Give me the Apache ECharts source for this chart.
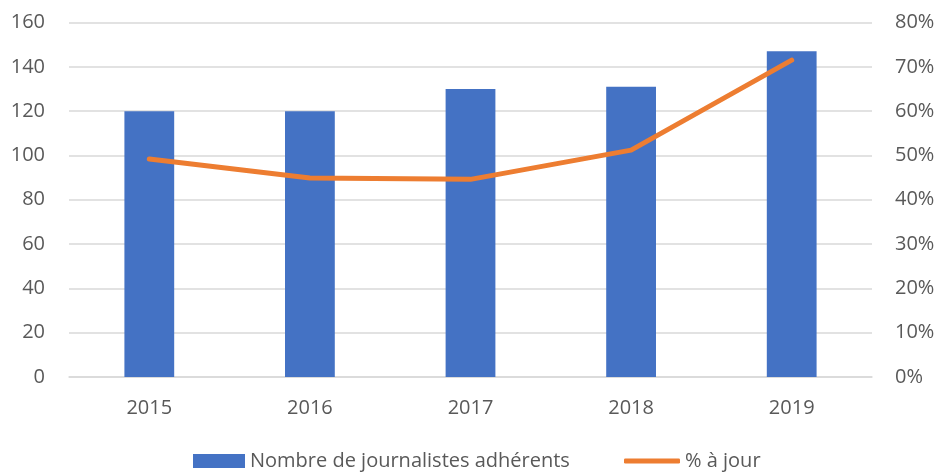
<!DOCTYPE html>
<html lang="fr">
<head>
    <meta charset="UTF-8">
    <title>Journalistes adhérents</title>
    <style>
        html, body { margin: 0; padding: 0; background: #fff; }
        #chart { width: 940px; height: 472px; }
    </style>
</head>
<body>
<div id='chart'></div>
<script src='https://cdn.jsdelivr.net/npm/echarts@6/dist/echarts.min.js'></script>
<script>
    var years = ['2015', '2016', '2017', '2018', '2019'];
    var adherents = [120, 120, 130, 131, 147];
    var pctAJour = [49.2, 44.9, 44.6, 51.2, 71.5];
    var leftTicks = [0, 160, 20];
    var rightTicks = [0, 80, 10];

    var textColor = '#595959';
    var fontFam = '"Open Sans"';

    var chart = echarts.init(document.getElementById('chart'));
    var options = {
        animation: false,
        textStyle: { fontFamily: fontFam },
        grid: {
            left: 69,
            right: 68,
            top: 22.5,
            bottom: 95,
            containLabel: false
        },
        legend: [
            {
                data: [{ name: 'Nombre de journalistes adhérents', icon: 'rect' }],
                left: 193,
                top: 451,
                padding: 0,
                itemWidth: 52,
                itemHeight: 14,
                textStyle: { color: textColor, fontSize: 20, fontFamily: fontFam }
            },
            {
                data: [{ name: '% à jour', icon: 'roundRect' }],
                left: 624,
                top: 451,
                padding: 0,
                itemWidth: 56,
                itemHeight: 5,
                textStyle: { color: textColor, fontSize: 20, fontFamily: fontFam }
            }
        ],
        xAxis: {
            type: 'category',
            data: years,
            axisLine: { lineStyle: { color: '#D9D9D9', width: 1.5 } },
            axisTick: { show: false },
            axisLabel: { color: textColor, fontSize: 20, margin: 21, fontFamily: fontFam }
        },
        yAxis: [
            {
                type: 'value',
                min: leftTicks[0],
                max: leftTicks[1],
                interval: leftTicks[2],
                axisLine: { show: false },
                axisTick: { show: false },
                axisLabel: { color: textColor, fontSize: 20, margin: 24, fontFamily: fontFam },
                splitLine: { lineStyle: { color: '#D9D9D9', width: 1.5 } }
            },
            {
                type: 'value',
                min: rightTicks[0],
                max: rightTicks[1],
                interval: rightTicks[2],
                axisLine: { show: false },
                axisTick: { show: false },
                axisLabel: { color: textColor, fontSize: 20, margin: 23, formatter: '{value}%', fontFamily: fontFam },
                splitLine: { show: false }
            }
        ],
        series: [
            {
                name: 'Nombre de journalistes adhérents',
                type: 'bar',
                data: adherents,
                barWidth: '31%',
                itemStyle: { color: '#4472C4' }
            },
            {
                name: '% à jour',
                type: 'line',
                yAxisIndex: 1,
                data: pctAJour,
                symbol: 'none',
                itemStyle: { color: '#ED7D31' },
                lineStyle: { color: '#ED7D31', width: 5, cap: 'round', join: 'round' }
            }
        ]
    };
    chart.setOption(options);
</script>
</body>
</html>
